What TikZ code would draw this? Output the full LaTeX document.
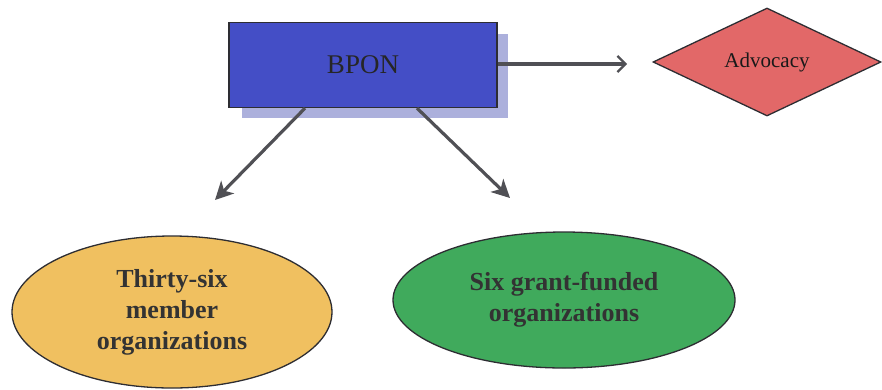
\documentclass[tikz,border=0pt]{standalone}
\usepackage{fontspec}
\setmainfont{Liberation Serif}
\usetikzlibrary{shapes.geometric,arrows.meta,shadows}
\definecolor{bponblue}{RGB}{68,78,198}
\definecolor{shadowblue}{RGB}{172,176,220}
\definecolor{advred}{RGB}{226,104,104}
\definecolor{orgyellow}{RGB}{240,192,96}
\definecolor{orggreen}{RGB}{64,170,92}
\definecolor{edgegray}{RGB}{80,80,85}
\definecolor{outline}{RGB}{45,45,50}
\tikzset{
  shapeline/.style={draw=outline, line width=1.3pt},
  bponbox/.style={shapeline, rectangle, fill=bponblue, minimum width=268pt, minimum height=85pt, inner sep=0pt,
    font=\fontsize{27}{30}\selectfont, text=black!85},
  advbox/.style={shapeline, diamond, fill=advred, minimum width=228pt, minimum height=108pt, inner sep=0pt,
    font=\fontsize{21}{24}\selectfont, text=black!90},
  orgell/.style={shapeline, ellipse, inner sep=0pt, align=center,
    font=\fontsize{26}{31}\selectfont\bfseries, text=black!80},
  conn/.style={draw=edgegray, line width=3.2pt},
}
\begin{document}
\begin{tikzpicture}[x=1pt,y=-1pt]
\useasboundingbox (0,0) rectangle (882,389);
% shadow of BPON box
\fill[shadowblue] (242,34) rectangle (508,118);
\node[bponbox] (bpon) at (363,65) {BPON};
\node[advbox] (adv) at (767,62) {Advocacy};
\node[orgell, fill=orgyellow, minimum width=320pt, minimum height=152pt] (member) at (172,312)
  {Thirty-six\\member\\organizations};
\node[orgell, fill=orggreen, minimum width=342pt, minimum height=136pt] (grant) at (564,300)
  {Six grant-funded\\organizations};
\coordinate (advend) at (627,64);
\coordinate (memend) at (215,200);
\coordinate (grantend) at (510,198);
\draw[conn, -{Straight Barb[length=8pt,width=16pt,line width=2.2pt]}] (bpon.east |- advend) -- (advend);
\draw[conn, -{Stealth[length=18pt,width=18pt,inset=5pt]}] ([xshift=-58pt]bpon.south) -- (memend);
\draw[conn, -{Stealth[length=18pt,width=18pt,inset=5pt]}] ([xshift=54pt]bpon.south) -- (grantend);
\end{tikzpicture}
\end{document}
